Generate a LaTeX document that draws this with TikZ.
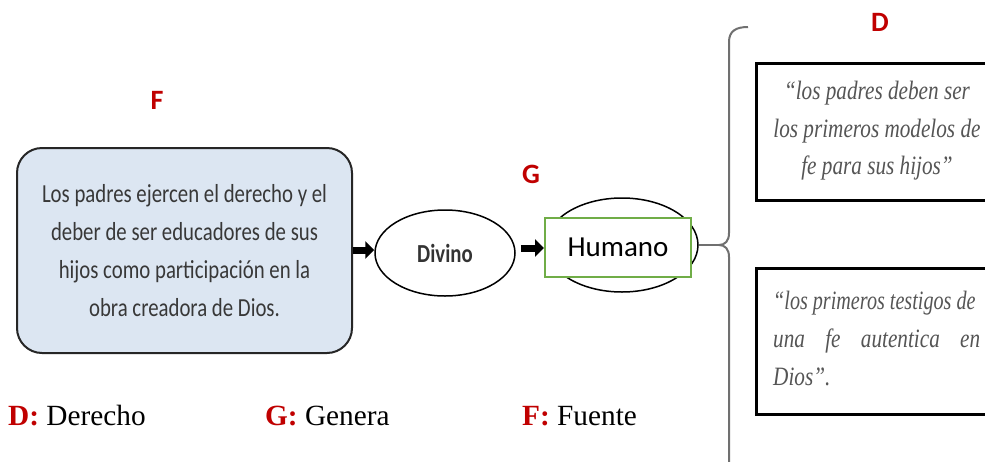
\documentclass[tikz,border=0pt]{standalone}
\usepackage{fontspec}
\setmainfont{Liberation Serif}
\newfontfamily\calfont{Carlito}
\newfontfamily\condcal{Carlito}[FakeStretch=0.8]
\newfontfamily\quotefont{Liberation Serif}[FakeStretch=0.8]
\usetikzlibrary{arrows.meta,shapes.geometric}
\definecolor{redlbl}{HTML}{C00000}
\definecolor{boxblue}{HTML}{DCE6F2}
\definecolor{humgreen}{HTML}{70AD47}
\definecolor{quotegray}{HTML}{555555}
\definecolor{bracegray}{HTML}{707070}
\tikzset{
  redletter/.style={text=redlbl, inner sep=0pt, font=\calfont\bfseries\fontsize{28}{28}\selectfont},
  legend/.style={anchor=base west, inner sep=0pt, font=\fontsize{29.3}{30}\selectfont},
  quoteline/.style={anchor=base, inner sep=0pt, text=quotegray, font=\quotefont\itshape\fontsize{26.5}{30}\selectfont},
  quotebox/.style={draw=black, line width=2.5pt, anchor=north west, minimum width=240pt, inner sep=0pt},
  thickarrow/.style={line width=7pt, -{Triangle[length=9pt,width=17pt]}},
  bracestyle/.style={draw=bracegray, line width=2pt}
}
\begin{document}
\begin{tikzpicture}[x=1pt,y=-1pt]
\clip (0,0) rectangle (985,461);
\fill[white] (0,0) rectangle (985,461);

% source box
\node[draw=black!85, line width=2pt, rounded corners=25pt, fill=boxblue,
      minimum width=335pt, minimum height=205pt, align=center, text=black!78,
      font=\condcal\fontsize{26}{38}\selectfont] (src) at (184.5,250.5)
  {Los padres ejercen el derecho y el\\deber de ser educadores de sus\\hijos como participación en la\\obra creadora de Dios.};

% Divino
\node[ellipse, draw, line width=1.5pt, minimum width=140pt, minimum height=86pt, inner sep=0pt,
      text=black!80, font=\condcal\bfseries\fontsize{26}{26}\selectfont] (div) at (445,253) {Divino};

% Humano
\node[ellipse, draw, line width=1.5pt, minimum width=152pt, minimum height=94pt, inner sep=0pt] (humell) at (622,245) {};
\node[draw=humgreen, line width=2pt, fill=white, minimum width=146pt, minimum height=59pt, inner sep=0pt,
      font=\calfont\fontsize{29}{29}\selectfont] (hum) at (618,247.5) {Humano};

% arrows
\draw[thickarrow] (src.east |- 0,250) -- (div.west |- 0,250);
\draw[thickarrow, shorten <=5pt] (div.east |- 0,248) -- (hum.west |- 0,248);

% brace
\coordinate (tip) at (719,245);
\draw[bracestyle] (humell.east) -- (tip);
\draw[bracestyle] (748,27) .. controls (736,27) and (729,31) .. (729,42) -- (729,233)
  .. controls (729,241) and (725,245) .. (tip)
  .. controls (725,245) and (729,249) .. (729,257) -- (729,470);

% quote boxes
\node[quotebox, minimum height=137pt] (q1) at (755,62) {};
\node[quotebox, minimum height=146pt] (q2) at (755,267) {};

\node[quoteline] (q1a) at (877,99) {“los padres deben ser};
\node[quoteline] (q1b) at (877,137) {los primeros modelos de};
\node[quoteline] (q1c) at (877,174) {fe para sus hijos”};

\node[quoteline, anchor=base west] (q2a) at (773,309) {\scalebox{0.95}[1]{“los primeros testigos de}};
\node[quoteline, anchor=base west] (q2b) at (773,347) {\makebox[207pt][s]{una fe autentica en}};
\node[quoteline, anchor=base west] (q2c) at (773,385) {Dios”.};

% red letters
\node[redletter] (lF) at (157,100) {F};
\node[redletter] (lG) at (531,174.5) {G};
\node[redletter] (lD) at (880,22.5) {D};

% legend
\node[legend] (legD) at (8,425) {\textcolor{redlbl}{\textbf{D:}} Derecho};
\node[legend] (legG) at (265,425) {\textcolor{redlbl}{\textbf{G:}} Genera};
\node[legend] (legF) at (522,425) {\textcolor{redlbl}{\textbf{F:}} Fuente};
\end{tikzpicture}
\end{document}
